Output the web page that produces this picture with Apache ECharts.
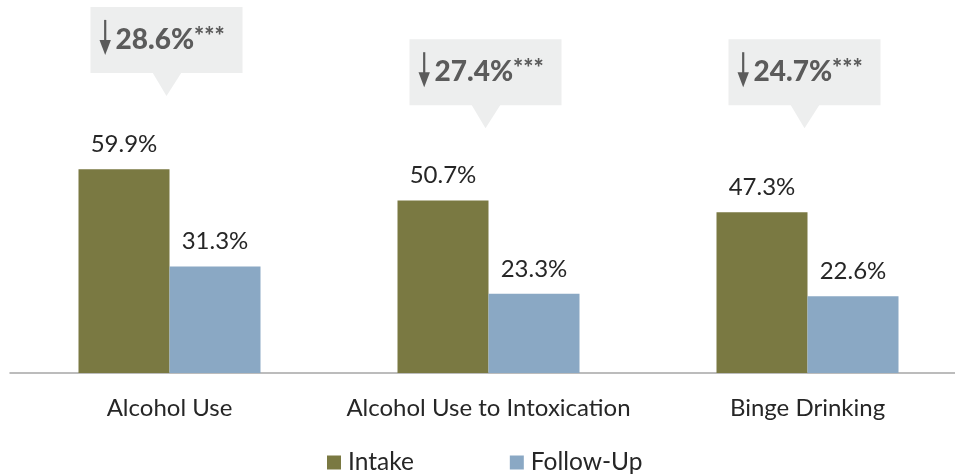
<!DOCTYPE html>
<html>
<head>
<meta charset="utf-8">
<script src="https://cdn.jsdelivr.net/npm/echarts@6/dist/echarts.min.js"></script>
<style>
  html, body { margin: 0; padding: 0; background: #fff; }
  #chart { width: 955px; height: 475px; }
</style>
</head>
<body>
<div id="chart"></div>
<script>
const categories = ['Alcohol Use', 'Alcohol Use to Intoxication', 'Binge Drinking']
const intake = [59.9, 50.7, 47.3]
const followUp = [31.3, 23.3, 22.6]
// where each callout's pointer tip sits, in axis units
const calloutAt = [81.5, 72, 72]
const stars = ['***', '***', '***']

const chartDom = document.getElementById('chart')
const myChart = echarts.init(chartDom)

const ink = '#5b5b5b'
const labelFont = 'Lato'

const callouts = categories.map((c, i) => [i, calloutAt[i], (intake[i] - followUp[i]).toFixed(1), stars[i]])

function renderCallout (params, api) {
  const p = api.coord([api.value(0), api.value(1)])
  const x = p[0] - 3
  const y = p[1]
  const txt = callouts[params.dataIndex][2] + '%'
  const st = callouts[params.dataIndex][3]
  return {
    type: 'group',
    children: [
      {
        type: 'rect',
        shape: { x: x - 76, y: y - 89, width: 152, height: 66 },
        style: { fill: '#edeeee' }
      },
      {
        type: 'polygon',
        shape: { points: [[x - 14, y - 23.5], [x + 15, y - 23.5], [x, y]] },
        style: { fill: '#edeeee' }
      },
      {
        type: 'line',
        shape: { x1: x - 61.3, y1: y - 76, x2: x - 61.3, y2: y - 50 },
        style: { stroke: ink, lineWidth: 2.2 }
      },
      {
        type: 'polygon',
        shape: { points: [[x - 67, y - 56], [x - 55.6, y - 56], [x - 61.3, y - 41]] },
        style: { fill: ink }
      },
      {
        type: 'text',
        style: {
          x: x - 51,
          y: y - 56,
          text: '{n|' + txt + '}{s|' + st + '}',
          verticalAlign: 'middle',
          align: 'left',
          rich: {
            n: { fontSize: 28, fontWeight: 900, fontFamily: 'Lato', fill: ink, lineHeight: 30 },
            s: { fontSize: 24, fontWeight: 900, fontFamily: 'Lato', fill: ink, verticalAlign: 'top', lineHeight: 24 }
          }
        }
      }
    ]
  }
}

const option = {
  animation: false,
  grid: { left: 10, width: 957, top: 33, height: 340, outerBoundsMode: 'none', containLabel: false },
  legend: {
    data: ['Intake', 'Follow-Up'],
    left: 327,
    top: 450,
    padding: 0,
    icon: 'rect',
    itemWidth: 14,
    itemHeight: 14,
    itemGap: 96,
    textStyle: { fontSize: 24.5, fontFamily: labelFont, color: '#262626', padding: [0, 0, 0, 2] }
  },
  xAxis: {
    type: 'category',
    data: categories,
    axisLine: { lineStyle: { color: '#a6a6a6', width: 1.5 } },
    axisTick: { show: false },
    axisLabel: { interval: 0, fontSize: 24, fontFamily: labelFont, color: '#262626', margin: 23 }
  },
  yAxis: {
    type: 'value',
    min: 0,
    max: 100,
    show: false,
    splitLine: { show: false }
  },
  series: [
    {
      name: 'Intake',
      type: 'bar',
      data: intake,
      barWidth: 91,
      barGap: '0%',
      itemStyle: { color: '#7a7942' },
      label: {
        show: true, position: 'top', distance: 13,
        formatter: '{c}%', fontSize: 24, fontFamily: labelFont, color: '#262626'
      }
    },
    {
      name: 'Follow-Up',
      type: 'bar',
      data: followUp,
      barWidth: 91,
      itemStyle: { color: '#8aa8c4' },
      label: {
        show: true, position: 'top', distance: 13,
        formatter: '{c}%', fontSize: 24, fontFamily: labelFont, color: '#262626'
      }
    },
    {
      type: 'custom',
      data: callouts,
      encode: { x: 0, y: 1 },
      renderItem: renderCallout,
      clip: false,
      silent: true,
      z: 5
    }
  ]
}

myChart.setOption(option)
</script>
</body>
</html>
